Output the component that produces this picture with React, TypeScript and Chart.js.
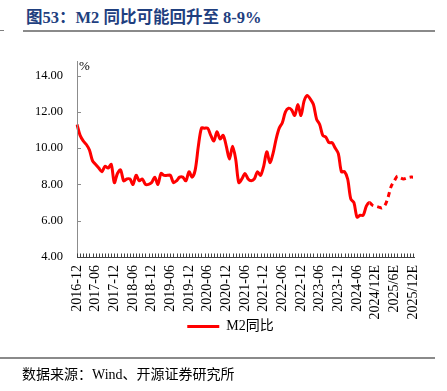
import React, { useEffect, useRef } from 'react';
import { Chart, registerables } from 'chart.js';

Chart.register(...registerables);

// Displayed x tick labels (every 6 months)
const tickLabels = [
  '2016-12', '2017-06', '2017-12', '2018-06', '2018-12', '2019-06', '2019-12',
  '2020-06', '2020-12', '2021-06', '2021-12', '2022-06', '2022-12', '2023-06',
  '2023-12', '2024-06', '2024/12E', '2025/6E', '2025/12E',
];

// M2 YoY (%), monthly 2016-12 .. 2024-09 (actual)
const m2Actual = [
  11.3,
  10.7, 10.4, 10.2, 9.9, 9.3, 9.1, 8.9, 8.7, 9.0, 8.9, 9.1, 8.1,
  8.6, 8.8, 8.2, 8.3, 8.3, 8.0, 8.5, 8.2, 8.3, 8.0, 8.0, 8.1,
  8.4, 8.0, 8.6, 8.5, 8.5, 8.5, 8.1, 8.2, 8.4, 8.4, 8.2, 8.7,
  8.4, 8.8, 10.1, 11.1, 11.1, 11.1, 10.7, 10.4, 10.9, 10.5, 10.7, 10.1,
  9.4, 10.1, 9.4, 8.1, 8.3, 8.6, 8.3, 8.2, 8.3, 8.7, 8.5, 9.0,
  9.8, 9.2, 9.7, 10.5, 11.1, 11.4, 12.0, 12.2, 12.1, 11.8, 12.4, 11.8,
  12.6, 12.9, 12.7, 12.4, 11.6, 11.3, 10.7, 10.6, 10.3, 10.3, 10.0, 9.7,
  8.7, 8.7, 8.3, 7.2, 7.0, 6.2, 6.3, 6.3, 6.8,
];

// M2 YoY (%), monthly 2024-10 .. 2025-12 (projection)
const m2Forecast = [
  7.0, 6.85, 6.8, 6.75, 6.7, 6.85, 7.3, 7.9, 8.2, 8.45, 8.35, 8.3, 8.35, 8.4, 8.4,
];

const yTickValues = [4, 6, 8, 10, 12, 14];

const SERIF = "'Liberation Serif', 'Noto Sans CJK SC', serif";

export default function App() {
  const ref = useRef<HTMLCanvasElement>(null);

  useEffect(() => {
    if (!ref.current) return;
    const months: string[] = [];
    let yy = 2016;
    let mm = 12;
    const total = m2Actual.length + m2Forecast.length;
    while (months.length < total) {
      months.push(`${yy}-${String(mm).padStart(2, '0')}`);
      mm++;
      if (mm > 12) { mm = 1; yy++; }
    }
    const values = [...m2Actual, ...m2Forecast];
    const forecastStart = m2Actual.length;

    const legendPad = 6;
    const legendFont = 14;

    const placeLegend = {
      id: 'placeLegend',
      afterLayout(chart: any) {
        const lg = chart.legend;
        if (!lg) return;
        const dx = 230.5 - (lg.left + lg.right) / 2;
        const dy = (326.5 - legendPad - legendFont / 2) - lg.top;
        lg.left += dx; lg.right += dx;
        lg.top += dy; lg.bottom += dy;
      },
    };

    const axisPlugin = {
      id: 'customAxes',
      afterDatasetsDraw(chart: any) {
        const { ctx, chartArea, scales } = chart;
        const xs = scales.x;
        const ys = scales.y;
        ctx.save();
        ctx.strokeStyle = '#8c8c8c';
        ctx.lineWidth = 1;
        ctx.beginPath();
        ctx.moveTo(chartArea.left + 0.5, chartArea.top);
        ctx.lineTo(chartArea.left + 0.5, chartArea.bottom);
        yTickValues.forEach((v) => {
          const y = Math.round(ys.getPixelForValue(v)) + 0.5;
          ctx.moveTo(chartArea.left, y);
          ctx.lineTo(chartArea.left + 4, y);
        });
        ctx.stroke();
        ctx.strokeStyle = '#404040';
        ctx.beginPath();
        const by = Math.round(chartArea.bottom) + 0.5;
        ctx.moveTo(chartArea.left, by);
        ctx.lineTo(chartArea.right + 2, by);
        for (let i = 0; i < values.length; i++) {
          const x = Math.round(xs.getPixelForValue(i)) + 0.5;
          ctx.moveTo(x, by);
          ctx.lineTo(x, by - 4);
        }
        ctx.stroke();
        ctx.restore();
      },
    };

    const chart = new Chart(ref.current, {
      type: 'line',
      data: {
        labels: months,
        datasets: [
          {
            label: 'M2同比',
            data: values,
            borderColor: '#FF0000',
            backgroundColor: '#FF0000',
            borderWidth: 3,
            pointRadius: 0,
            pointStyle: 'line',
            tension: 0.3,
            segment: {
              borderDash: (c: any) => (c.p0DataIndex >= forecastStart ? [5, 4] : undefined),
            },
          },
        ],
      },
      options: {
        animation: false,
        responsive: false,
        maintainAspectRatio: false,
        layout: { padding: { top: 61, left: 0, right: 34, bottom: 34 } },
        plugins: {
          legend: {
            position: 'bottom',
            labels: {
              usePointStyle: true,
              pointStyle: 'line',
              pointStyleWidth: 32,
              padding: legendPad,
              color: '#000',
              font: { family: SERIF, size: legendFont },
            },
          },
          tooltip: { enabled: false },
        },
        scales: {
          x: {
            type: 'category',
            offset: false,
            grid: { display: false, drawTicks: false },
            border: { display: false },
            ticks: {
              autoSkip: false,
              maxRotation: 90,
              minRotation: 90,
              padding: 8,
              color: '#000',
              font: { family: SERIF, size: 14 },
              callback: (_v: any, i: number) => (i % 6 === 0 ? tickLabels[i / 6] : ''),
            },
            afterFit: (s: any) => { s.height = 70; },
          },
          y: {
            min: 4,
            max: 14.8,
            grid: { display: false, drawTicks: false },
            border: { display: false },
            afterBuildTicks: (s: any) => { s.ticks = yTickValues.map((v) => ({ value: v })); },
            ticks: {
              padding: 14,
              color: '#000',
              font: { family: SERIF, size: 12.5 },
              callback: (v: any) => Number(v).toFixed(2),
            },
            afterFit: (s: any) => { s.width = 77; },
          },
        },
      },
      plugins: [placeLegend, axisPlugin],
    } as any);

    return () => chart.destroy();
  }, []);

  return (
    <div style={{ position: 'absolute', left: 0, top: 0, width: 447, height: 391, background: '#fff' }}>
      <div
        style={{
          position: 'absolute', left: 26, top: 8, fontFamily: SERIF, fontWeight: 'bold',
          fontSize: 16.5, color: '#1F3F7F', whiteSpace: 'nowrap', lineHeight: '20px',
        }}
      >
        图53：M2 同比可能回升至 8-9%
      </div>
      <div style={{ position: 'absolute', left: 0, top: 30, width: 4, height: 1, background: '#7f7f7f' }} />
      <div style={{ position: 'absolute', left: 23, top: 30, width: 412, height: 2, background: '#8a8a8a' }} />
      <canvas ref={ref} width={447} height={391} style={{ position: 'absolute', left: 0, top: 0 }} />
      <div
        style={{
          position: 'absolute', left: 79, top: 58, fontFamily: SERIF, fontSize: 13,
          color: '#000', lineHeight: '16px',
        }}
      >
        %
      </div>
      <div style={{ position: 'absolute', left: 0, top: 357, width: 435, height: 2, background: '#8a8a8a' }} />
      <div
        style={{
          position: 'absolute', left: 22, top: 366, fontFamily: SERIF, fontSize: 14,
          color: '#000', whiteSpace: 'nowrap', lineHeight: '18px',
        }}
      >
        数据来源：Wind、开源证券研究所
      </div>
    </div>
  );
}
